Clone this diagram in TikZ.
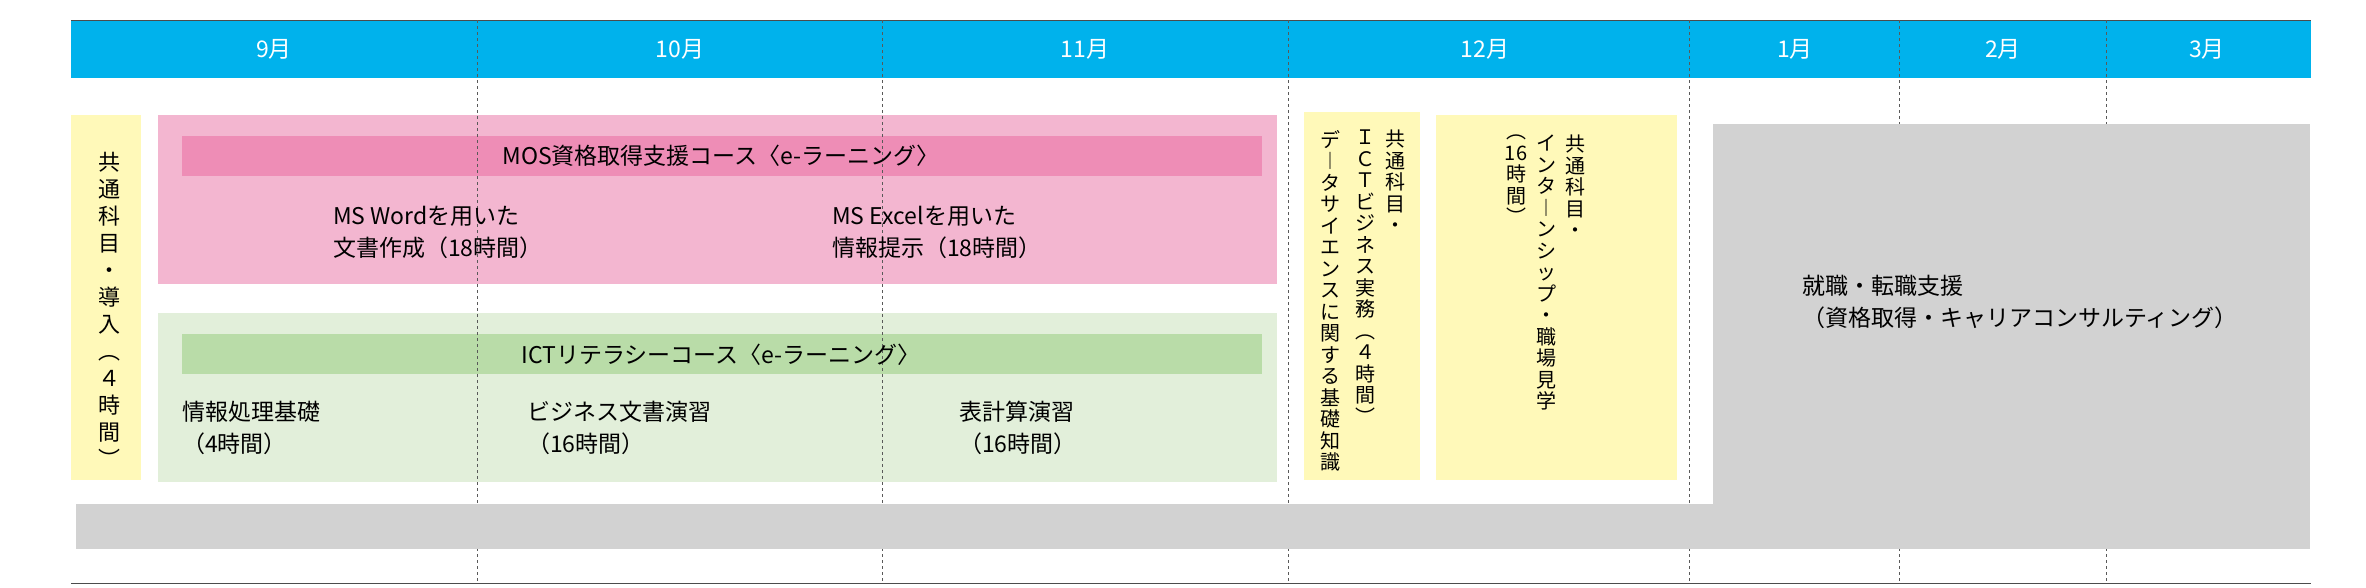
\documentclass[tikz,border=0pt]{standalone}
\usepackage{fontspec}
\setmainfont{Noto Sans CJK JP}
\definecolor{bandblue}{RGB}{0,178,236}
\definecolor{pinklight}{RGB}{243,182,208}
\definecolor{pinkdark}{RGB}{238,141,182}
\definecolor{greenlight}{RGB}{226,239,218}
\definecolor{greendark}{RGB}{185,220,168}
\definecolor{paleyellow}{RGB}{255,249,185}
\definecolor{supportgray}{RGB}{210,210,210}
\tikzset{
  month/.style={text=white,font=\fontsize{23}{26}\selectfont},
  course/.style={font=\fontsize{23}{32}\selectfont,align=left,anchor=west,inner sep=0pt},
  tate/.style={font=\fontsize{20}{21.5}\selectfont,align=center,anchor=north,inner sep=0pt},
  monthline/.style={dashed,gray!70!black,line width=0.8pt}
}
\begin{document}
\begin{tikzpicture}[x=1pt,y=-1pt]
		\useasboundingbox (0,0) rectangle (2366,587);

		% month band
		\fill[bandblue] (71,20) rectangle (2311,78);
		\draw[gray!60!black,line width=1pt] (71,20) -- (2311,20);
		\draw[gray!60!black,line width=1pt] (71,583) -- (2311,583);
		\node[month] (sep) at (274,49) {9月};
		\node[month] (oct) at (680,49) {10月};
		\node[month] (nov) at (1085,49) {11月};
		\node[month] (dec) at (1485,49) {12月};
		\node[month] (jan) at (1795,49) {1月};
		\node[month] (feb) at (2003,49) {2月};
		\node[month] (mar) at (2207,49) {3月};

		% course boxes
		\fill[pinklight] (158,115) rectangle (1277,284);
		\fill[pinkdark] (182,136) rectangle (1262,176);
		\fill[greenlight] (158,313) rectangle (1277,482);
		\fill[greendark] (182,334) rectangle (1262,374);

		% month borders
		\foreach \mx in {477,882,1288,1689,1899,2106}
			\draw[monthline] (\mx,20) -- (\mx,583);

		% support areas
		\fill[supportgray] (76,504) rectangle (2310,549);
		\fill[supportgray] (1713,124) rectangle (2310,504);
		\fill[paleyellow] (71,115) rectangle (141,480);
		\fill[paleyellow] (1304,112) rectangle (1420,480);
		\fill[paleyellow] (1436,115) rectangle (1677,480);

		\node[font=\fontsize{23}{26}\selectfont] (mos) at (721,156) {MOS資格取得支援コース〈e-ラーニング〉};
		\node[course] (word) at (333,232) {MS Wordを用いた\\文書作成（18時間）};
		\node[course] (excel) at (832,232) {MS Excelを用いた\\情報提示（18時間）};

		\node[font=\fontsize{23}{26}\selectfont] (ict) at (721,355) {ICTリテラシーコース〈e-ラーニング〉};
		\node[course] (kiso) at (182,428) {情報処理基礎\\（4時間）};
		\node[course] (bunsho) at (527,428) {ビジネス文書演習\\（16時間）};
		\node[course] (hyo) at (959,428) {表計算演習\\（16時間）};

		\node[tate,font=\fontsize{22}{27}\selectfont] (intro) at (109,152)
			{共\\通\\科\\目\\・\\導\\入\\︵\\４\\時\\間\\︶};

		\node[tate] (ictA) at (1395,130) {共\\通\\科\\目\\・};
		\node[tate] (ictB) at (1365,130) {Ｉ\\Ｃ\\Ｔ\\ビ\\ジ\\ネ\\ス\\実\\務\\︵\\４\\時\\間\\︶};
		\node[tate] (ictC) at (1330,130) {デ\\︱\\タ\\サ\\イ\\エ\\ン\\ス\\に\\関\\す\\る\\基\\礎\\知\\識};

		\node[tate] (internA) at (1575,135) {共\\通\\科\\目\\・};
		\node[tate] (internB) at (1546,135) {イ\\ン\\タ\\︱\\ン\\シ\\ッ\\プ\\・\\職\\場\\見\\学};
		\node[tate] (internC) at (1516,135) {︵\\16\\時\\間\\︶};

		\node[course] (shushoku) at (1802,302) {就職・転職支援\\（資格取得・キャリアコンサルティング）};
	\end{tikzpicture}
\end{document}
